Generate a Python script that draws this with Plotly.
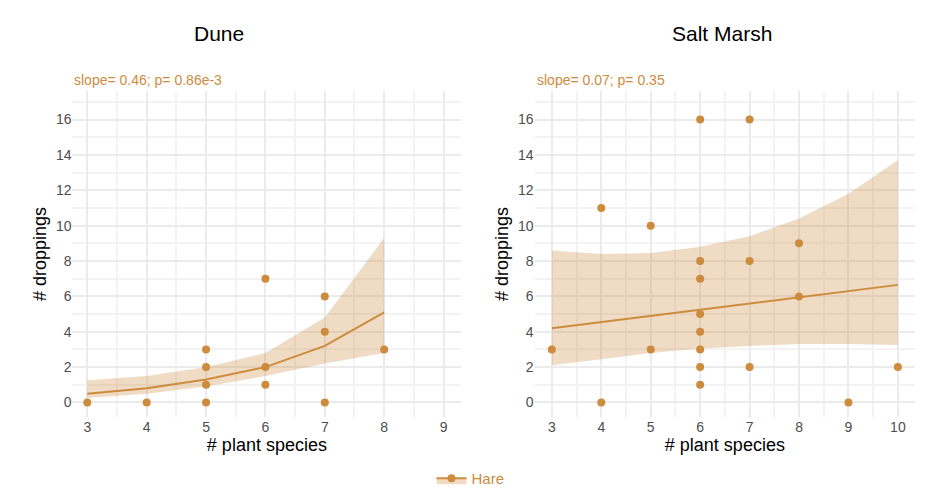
import plotly.graph_objects as go
from plotly.subplots import make_subplots

col = "#CD8B3E"
band = "rgba(205,139,62,0.3)"

dune_x = [3, 4, 5, 5, 5, 5, 6, 6, 6, 7, 7, 7, 8]
dune_y = [0, 0, 0, 1, 2, 3, 1, 2, 7, 0, 4, 6, 3]
dune_fx = [3, 4, 5, 6, 7, 8]
dune_fit = [0.5, 0.8, 1.3, 2.0, 3.2, 5.1]
dune_lo = [0.25, 0.5, 0.9, 1.5, 2.2, 2.8]
dune_hi = [1.25, 1.5, 2.0, 2.8, 4.8, 9.3]

salt_x = [3, 4, 4, 5, 5, 6, 6, 6, 6, 6, 6, 6, 6, 7, 7, 7, 8, 8, 9, 10]
salt_y = [3, 0, 11, 3, 10, 16, 8, 7, 5, 4, 3, 2, 1, 16, 8, 2, 9, 6, 0, 2]
salt_fx = [3, 4, 5, 6, 7, 8, 9, 10]
salt_fit = [4.2, 4.55, 4.9, 5.25, 5.6, 5.95, 6.3, 6.65]
salt_lo = [2.1, 2.45, 2.8, 3.05, 3.2, 3.3, 3.3, 3.25]
salt_hi = [8.6, 8.4, 8.45, 8.8, 9.4, 10.4, 11.8, 13.7]

fig = make_subplots(1, 2, subplot_titles=["Dune", "Salt Marsh"])

for c, (x, y, fx, fit, lo, hi) in enumerate([
        (dune_x, dune_y, dune_fx, dune_fit, dune_lo, dune_hi),
        (salt_x, salt_y, salt_fx, salt_fit, salt_lo, salt_hi)], start=1):
    fig.add_scatter(x=fx + fx[::-1], y=hi + lo[::-1], fill="toself", fillcolor=band,
                    line_width=0, mode="lines", showlegend=False, hoverinfo="skip", row=1, col=c)
    fig.add_scatter(x=fx, y=fit, mode="lines", line=dict(color=col, width=2),
                    showlegend=False, row=1, col=c)
    fig.add_scatter(x=x, y=y, mode="markers", marker=dict(color=col, size=8),
                    showlegend=False, row=1, col=c)

# legend entry
fig.add_scatter(x=[None], y=[None], mode="lines+markers", name="Hare",
                line=dict(color=col, width=2), marker=dict(color=col, size=8),
                fill="toself", fillcolor=band, row=1, col=1)

ax = dict(showgrid=True, gridcolor="#EBEBEB", gridwidth=1.5, zeroline=False, showline=False,
          tickfont=dict(size=14, color="#4D4D4D"), ticks="")
fig.update_xaxes(ax, title=dict(text="# plant species", font=dict(size=18, color="black"), standoff=2),
                 minor=dict(showgrid=True, gridcolor="#F3F3F3", dtick=0.5, tick0=0))
fig.update_yaxes(ax, title=dict(text="# droppings", font=dict(size=18, color="black"), standoff=4),
                 range=[-0.8, 17.6], tickvals=list(range(0, 17, 2)),
                 minor=dict(showgrid=True, gridcolor="#F3F3F3", tickvals=list(range(1, 18, 2))))
fig.update_xaxes(range=[2.75, 9.3], dtick=1, domain=[0.065, 0.49], row=1, col=1)
fig.update_xaxes(range=[2.65, 10.35], dtick=1, domain=[0.57, 0.986], row=1, col=2)
fig.update_yaxes(domain=[0.165, 0.85])

for a in fig.layout.annotations:
    a.font = dict(size=21, color="black")
    a.y = 1.0
    a.yanchor = "top"

fig.add_annotation(text="slope= 0.46; p= 0.86e-3", xref="x domain", yref="paper", x=0, y=0.853,
                   xanchor="left", yanchor="bottom", showarrow=False, font=dict(size=14, color=col))
fig.add_annotation(text="slope= 0.07; p= 0.35", xref="x2 domain", yref="paper", x=0, y=0.853,
                   xanchor="left", yanchor="bottom", showarrow=False, font=dict(size=14, color=col))

fig.update_layout(width=930, height=492, plot_bgcolor="white", paper_bgcolor="white",
                  font=dict(family="Liberation Sans"),
                  margin=dict(l=5, r=10, t=12, b=5),
                  legend=dict(orientation="h", x=0.5, xanchor="center", y=0.0, yanchor="bottom",
                              font=dict(size=15, color=col)))
fig.write_html("out.html")
